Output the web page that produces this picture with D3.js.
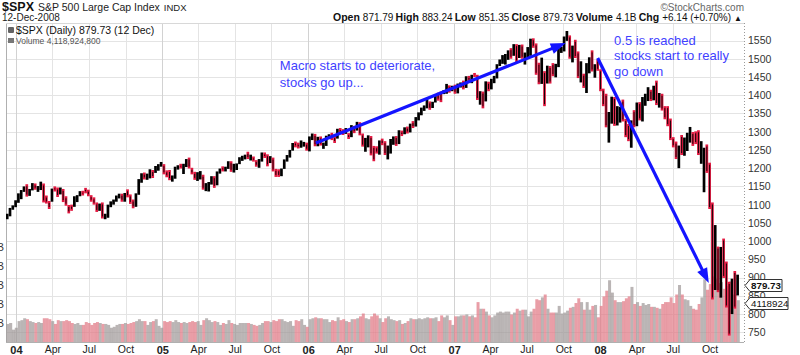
<!DOCTYPE html>
<html><head><meta charset="utf-8">
<script src="https://cdn.jsdelivr.net/npm/d3@7"></script>
<style>body{margin:0;background:#fff}svg{display:block;font-family:Arial,"Liberation Sans",sans-serif}</style>
</head><body><svg id="c" width="800" height="355"></svg>
<script>
// ---- data (weekly bars, week starting Monday) ----
const firstWeek = "2003-12-08";
const closes = [
1074,1089,1095,
1108,1122,1139,1141,1131, 1142,1146,1144,1145, 1156,1120,1109,1108, 1141,1139,1134,1141,1107, 1098,1095,1093,1121, 1122,1137,1135,1134, 1126,1112,1101,1096,1101, 1064,1064,1098,1107, 1113,1123,1128,1110, 1131,1122,1108,1095,1130, 1167,1185,1170,1183, 1191,1189,1195,1210,1212,
1186,1184,1168,1171, 1203,1206,1201,1212, 1222,1201,1190,1172, 1172,1182,1142,1153,1157, 1172,1154,1190,1198, 1197,1201,1217,1191, 1211,1212,1228,1230,1234, 1226,1231,1220,1205, 1218,1241,1237,1215,1229, 1196,1186,1179,1198, 1220,1235,1248,1268, 1265,1259,1267,1268,1248,
1285,1288,1261,1284, 1264,1267,1287,1289, 1287,1282,1307,1302,1295, 1295,1289,1311,1310, 1326,1291,1267,1280, 1288,1253,1251,1245,1270, 1265,1236,1240,1278, 1280,1267,1302,1295, 1311,1299,1320,1314,1336, 1350,1362,1369,1377, 1364,1380,1401,1400, 1397,1409,1427,1410,1418,
1409,1430,1430,1423, 1449,1438,1455,1451, 1387,1402,1386,1436,1421, 1443,1452,1484,1494, 1505,1505,1522,1515, 1536,1507,1533,1502,1503, 1530,1552,1534,1458, 1433,1453,1445,1479,1473, 1453,1484,1525,1527, 1557,1561,1500,1535, 1509,1453,1458,1440,1481, 1504,1467,1484,1478,
1411,1401,1325,1331, 1395,1331,1349,1353,1331, 1294,1288,1330,1316, 1370,1332,1390,1398, 1413,1388,1425,1376,1400, 1361,1360,1318,1278, 1262,1240,1261,1257, 1260,1296,1298,1292,1283, 1242,1252,1255,1213, 1099,899,940,877,968, 930,873,800,896, 876,880];
const highs = [
1075,1091,1098,
1112,1131,1140,1150,1156, 1143,1159,1158,1151, 1163,1158,1125,1110, 1144,1150,1147,1147,1143, 1123,1099,1100,1123, 1126,1137,1138,1146, 1141,1126,1120,1106,1103, 1106,1075,1100,1109, 1114,1125,1130,1130, 1132,1142,1128,1114,1131, 1170,1186,1188,1185, 1197,1195,1206,1211,1217,
1211,1194,1195,1180, 1204,1208,1212,1212, 1225,1229,1201,1190, 1189,1192,1182,1159,1162, 1178,1178,1191,1199, 1205,1204,1219,1219, 1212,1213,1230,1234,1237, 1245,1237,1232,1222, 1225,1243,1243,1238,1233, 1229,1198,1197,1199, 1224,1236,1250,1269, 1273,1270,1276,1272,1270,
1287,1295,1294,1286, 1287,1270,1289,1293, 1297,1288,1308,1310,1307, 1310,1296,1318,1316, 1327,1326,1295,1283, 1290,1288,1261,1260,1276, 1281,1274,1262,1280, 1287,1288,1304,1303, 1312,1314,1322,1329,1340, 1353,1366,1372,1389, 1383,1382,1403,1407, 1410,1414,1431,1427,1426,
1429,1432,1435,1440, 1452,1453,1456,1461, 1456,1411,1410,1438,1437, 1445,1453,1485,1498, 1510,1513,1523,1529, 1540,1540,1538,1539,1517, 1532,1555,1556,1542, 1489,1503,1466,1481,1480, 1488,1486,1530,1533, 1561,1576,1564,1536, 1552,1520,1493,1459,1488, 1504,1523,1485,1498,
1471,1418,1404,1354, 1396,1395,1370,1368,1388, 1335,1321,1331,1359, 1380,1381,1395,1404, 1422,1415,1426,1440,1406, 1404,1370,1370,1336, 1285,1273,1262,1291, 1284,1297,1313,1299,1301, 1304,1274,1256,1265, 1215,1106,1044,985,984, 1007,944,888,897, 918,908];
const lows = [
1060,1068,1086,
1093,1105,1115,1135,1122, 1124,1139,1141,1135, 1140,1106,1103,1088, 1108,1136,1121,1128,1107, 1097,1076,1083,1094, 1107,1123,1125,1131, 1123,1108,1100,1080,1083, 1062,1060,1064,1093, 1100,1108,1117,1108, 1108,1120,1102,1090,1094, 1127,1160,1169,1168, 1172,1173,1187,1193,1204,
1183,1175,1167,1163, 1171,1196,1199,1184, 1203,1199,1183,1168, 1165,1169,1141,1137,1136, 1155,1146,1153,1185, 1191,1191,1198,1190, 1188,1195,1211,1220,1224, 1225,1221,1218,1204, 1201,1218,1228,1205,1214, 1191,1176,1176,1178, 1198,1218,1229,1248, 1257,1254,1256,1259,1248,
1246,1277,1260,1260, 1262,1253,1261,1280, 1277,1269,1281,1295,1291, 1294,1280,1285,1296, 1303,1290,1259,1245, 1257,1235,1219,1240,1237, 1263,1236,1224,1240, 1264,1261,1266,1288, 1293,1295,1298,1310,1314, 1331,1345,1357,1364, 1360,1365,1380,1385, 1381,1403,1404,1407,1411,
1404,1405,1421,1416, 1420,1437,1433,1450, 1387,1374,1364,1383,1411, 1416,1433,1446,1480, 1486,1484,1497,1500, 1508,1490,1502,1500,1484, 1503,1508,1530,1456, 1430,1431,1370,1432,1432, 1452,1449,1477,1516, 1520,1549,1500,1490, 1502,1447,1435,1420,1406, 1460,1465,1448,1467,
1411,1370,1312,1270, 1322,1316,1317,1325,1328, 1285,1274,1256,1312, 1315,1331,1328,1371, 1384,1384,1386,1373,1366, 1358,1334,1315,1277, 1257,1225,1200,1236, 1234,1247,1270,1261,1266, 1236,1212,1134,1187, 1088,840,866,860,845, 899,818,741,800, 815,851];
const volumes = [ // billions
1.9,2.0,1.3,
1.5,2.2,2.3,2.5,2.4, 2.2,2.1,2.0,2.1, 2.0,2.5,2.5,2.4, 2.2,1.9,2.3,2.2,2.2, 2.3,2.2,2.0,1.9, 2.0,1.8,1.8,2.1, 2.0,1.8,2.0,2.1,2.0, 1.9,1.9,1.8,1.5, 1.6,1.8,1.9,1.9, 2.0,1.9,2.0,2.1,2.2, 2.4,2.2,2.2,1.8, 2.1,2.2,2.4,1.7,1.5,
2.2,2.1,2.2,2.1, 2.3,2.1,2.0,2.1, 2.0,2.1,2.2,2.1, 2.2,1.8,2.3,2.5,2.3, 2.1,2.2,2.1,1.8, 2.0,1.9,2.3,2.0, 1.9,1.8,2.0,2.0,2.0, 2.0,1.9,1.8,1.7, 1.8,2.0,2.2,2.2,2.1, 2.3,2.2,2.4,2.4, 2.2,2.1,2.2,1.7, 2.3,2.2,2.4,1.8,1.6,
2.4,2.5,2.6,2.5, 2.5,2.4,2.4,2.1, 2.3,2.2,2.6,2.3,2.4, 2.2,2.1,2.4,2.4, 2.5,2.7,3.0,2.5, 2.4,2.7,3.0,2.8,2.5, 2.1,2.5,2.7,2.4, 2.3,2.2,2.3,1.9, 2.0,2.2,2.5,2.4,2.4, 2.5,2.4,2.5,2.6, 2.5,2.5,2.6,2.2, 2.8,2.6,2.8,2.3,1.8,
2.7,2.7,2.8,2.8, 2.9,2.7,2.8,2.6, 4.2,3.5,3.5,3.2,2.8, 2.6,2.8,3.1,3.2, 3.1,3.2,3.2,2.9, 3.1,3.5,3.3,3.4,3.4, 2.7,3.2,3.5,4.5, 4.4,4.7,5.0,3.5,3.1, 3.1,3.1,3.8,3.0, 3.1,3.3,3.6,3.7, 4.1,4.6,4.2,3.4,4.2, 3.4,3.8,3.9,2.6,
3.8,4.8,5.4,6.5, 5.2,4.4,4.2,4.2,4.3, 4.6,4.8,5.8,4.0, 4.2,3.8,4.1,3.9, 4.0,3.7,3.7,3.6,3.5, 4.0,4.2,4.2,4.7, 4.1,5.0,6.0,5.0, 4.5,4.4,3.8,3.5,3.4, 4.0,4.7,6.6,5.5, 6.1,6.9,6.6,6.2,6.3, 5.6,5.9,6.4,5.0, 5.0,4.4];
const priceTicks = [750,800,850,900,950,1000,1050,1100,1150,1200,1250,1300,1350,1400,1450,1500,1550];
const volumeTicks = [2,4,6,8,10];
const lastClose = 879.73, lastVolume = 4.118924;
const statsLine = [["Open","871.79"],["High","883.24"],["Low","851.35"],["Close","879.73"],["Volume","4.1B"],["Chg","+6.14 (+0.70%)"]];
const arrows = [
  {from:["2006-01-20",1269], to:["2007-10-07",1543]},
  {from:["2007-12-26",1502], to:["2008-09-29",885]}
];
const notes = [
  {date:"2005-10-22", price:1469, lines:["Macro starts to deteriorate,","stocks go up..."]},
  {date:"2008-02-05", price:1538, lines:["0.5 is reached","stocks start to really","go down"]}
];

// ---- layout ----
const svg = d3.select("#c");
const L=6, R=744, T=23, B=342;
const parse = d3.timeParse("%Y-%m-%d");
const x = d3.scaleTime().domain([new Date(2003,11,7), new Date(2008,11,26)]).range([L,R]);
const y = d3.scaleLinear().domain([750,1550]).range([332.3,40.5]);
const yv = d3.scaleLinear().domain([0,10]).range([B,B-95]);
const w0 = parse(firstWeek);
const weeks = closes.map((c,i)=>({i, start:d3.timeDay.offset(w0,7*i), c, h:highs[i], l:lows[i], v:volumes[i],
  up: i===0 ? true : c>=closes[i-1]}));
const mid = d=>x(d3.timeDay.offset(d.start,2));

svg.append("rect").attr("width",800).attr("height",355).attr("fill","#fff");
svg.append("defs").append("clipPath").attr("id","pc").append("rect")
  .attr("x",L).attr("y",T).attr("width",R-L).attr("height",B-T);

// grid
const qTicks = d3.timeMonth.range(new Date(2004,0,1), new Date(2008,11,2), 3);
const g = svg.append("g");
g.selectAll(".hg").data(priceTicks).join("line")
  .attr("x1",L).attr("x2",R).attr("y1",d=>Math.round(y(d))+0.5).attr("y2",d=>Math.round(y(d))+0.5)
  .attr("stroke","#e4e4e4");
g.selectAll(".vg").data(qTicks).join("line")
  .attr("x1",d=>Math.round(x(d))+0.5).attr("x2",d=>Math.round(x(d))+0.5).attr("y1",T).attr("y2",B)
  .attr("stroke",d=>d.getMonth()===0?"#d2d2d2":"#e4e4e4");

// frame
svg.append("line").attr("x1",L+0.5).attr("x2",L+0.5).attr("y1",T).attr("y2",B).attr("stroke","#b0b0b0");
svg.append("line").attr("x1",L).attr("x2",R).attr("y1",B+0.5).attr("y2",B+0.5).attr("stroke","#b0b0b0");
svg.append("line").attr("x1",L).attr("x2",R).attr("y1",T+0.5).attr("y2",T+0.5).attr("stroke","#d8d8d8");
svg.append("line").attr("x1",R+0.5).attr("x2",R+0.5).attr("y1",T).attr("y2",B).attr("stroke","#999").attr("stroke-dasharray","1,2");

// volume
const pg = svg.append("g").attr("clip-path","url(#pc)");
pg.selectAll(".vol").data(weeks).join("rect")
  .attr("x",d=>x(d.start)).attr("width",d=>x(d3.timeDay.offset(d.start,7))-x(d.start)+0.2)
  .attr("y",d=>yv(d.v)).attr("height",d=>B-yv(d.v))
  .attr("fill",d=>d.up?"#9c9595":"#e07885").attr("fill-opacity",d=>d.up?0.7:0.72);

// price bars: up weeks black, down weeks red with a dark core
pg.selectAll(".bar").data(weeks).join("line")
  .attr("x1",mid).attr("x2",mid)
  .attr("y1",d=>y(d.h)).attr("y2",d=>y(d.l))
  .attr("stroke",d=>d.up?"#000":"#e2173f").attr("stroke-width",2.7);
pg.selectAll(".core").data(weeks.filter(d=>!d.up)).join("line")
  .attr("x1",mid).attr("x2",mid)
  .attr("y1",d=>y(d.h)+2).attr("y2",d=>y(d.l)-2)
  .attr("stroke","#000").attr("stroke-width",0.9);

// arrows
arrows.forEach(a=>{
  const x1=x(parse(a.from[0])), y1=y(a.from[1]), x2=x(parse(a.to[0])), y2=y(a.to[1]);
  const dx=x2-x1, dy=y2-y1, len=Math.hypot(dx,dy), ux=dx/len, uy=dy/len;
  const hl=15, hw=5.5;
  const bx=x2-ux*hl, by=y2-uy*hl;
  svg.append("line").attr("x1",x1).attr("y1",y1).attr("x2",bx+ux*2).attr("y2",by+uy*2)
    .attr("stroke","#1414ff").attr("stroke-width",3.2);
  svg.append("path").attr("d",`M${x2},${y2}L${bx-uy*hw},${by+ux*hw}L${bx+uy*hw},${by-ux*hw}Z`).attr("fill","#1414ff");
});
notes.forEach((n,j)=>{
  const t=svg.append("text").attr("x",x(parse(n.date))).attr("y",y(n.price)).attr("fill","#3f3fff").attr("font-size",13);
  n.lines.forEach((s,k)=>t.append("tspan").attr("x",x(parse(n.date))).attr("dy",k?(j?15.5:17):0).text(s));
});

// right axis
const ra = svg.append("g").attr("transform",`translate(${R},0)`)
  .call(d3.axisRight(y).tickValues(priceTicks).tickSize(0).tickPadding(4).tickFormat(d3.format("d")));
ra.select(".domain").remove();
ra.selectAll("text").style("font-family","Arial, Liberation Sans, sans-serif").style("font-size","10.5px").attr("fill","#333");

// left volume axis (cut off by the window edge)
const la = svg.append("g").attr("transform",`translate(${L-2},0)`)
  .call(d3.axisLeft(yv).tickValues(volumeTicks).tickSize(0).tickPadding(0).tickFormat(d=>d+"B"));
la.select(".domain").remove();
la.selectAll("text").style("font-family","Arial, Liberation Sans, sans-serif").style("font-size","10.5px").attr("fill","#333");

// bottom axis
const ba = svg.append("g").attr("transform",`translate(0,${B})`)
  .call(d3.axisBottom(x).tickValues(qTicks).tickSize(0).tickPadding(4)
    .tickFormat(d=>d.getMonth()===0?d3.timeFormat("%y")(d):d3.timeFormat("%b")(d)));
ba.select(".domain").remove();
ba.selectAll("text").style("font-family","Arial, Liberation Sans, sans-serif")
  .style("font-size",d=>d.getMonth()===0?"11px":"10.5px").style("font-weight",d=>d.getMonth()===0?"bold":"normal").attr("fill","#222");

// value tags
function tag(val, txt, bold, wdt){
  const yy=Math.round(val)+0.5, h=12;
  svg.append("path").attr("d",`M${R+1},${yy}L${R+6},${yy-h/2}L${R+6+wdt},${yy-h/2}L${R+6+wdt},${yy+h/2}L${R+6},${yy+h/2}Z`)
    .attr("fill","#fff").attr("stroke","#333").attr("stroke-width",1);
  svg.append("text").attr("x",R+7).attr("y",yy+3.8).attr("font-size",9.8).attr("font-weight",bold?"bold":"normal").attr("fill","#111").text(txt);
}
tag(y(lastClose), d3.format(".2f")(lastClose), true, 32);
tag(yv(lastVolume), String(Math.round(lastVolume*1e6)), false, 38);

// header
const h1 = svg.append("text").attr("x",2).attr("y",10.5);
h1.append("tspan").attr("font-weight","bold").attr("font-size",12.5).attr("fill","#111").text("$SPX");
h1.append("tspan").attr("font-size",10.5).attr("fill","#222").attr("dx",4).text("S&P 500 Large Cap Index");
h1.append("tspan").attr("font-size",9.5).attr("fill","#222").attr("dx",4).text("INDX");
svg.append("text").attr("x",2).attr("y",21).attr("font-size",10).attr("fill","#222").text("12-Dec-2008");
svg.append("text").attr("x",744).attr("y",10.5).attr("text-anchor","end").attr("font-size",10).attr("fill","#666").text("©StockCharts.com");
const st = svg.append("text").attr("x",742).attr("y",21).attr("text-anchor","end").attr("fill","#111");
const gaps = [];
statsLine.forEach((p,k)=>{
  const lab = st.append("tspan").attr("font-weight","bold").attr("font-size",10.5).attr("dx",k?5:0).text(p[0]);
  if(k) gaps.push(lab);
  st.append("tspan").attr("font-size",10).attr("dx",3).text(p[1]);
});
st.append("tspan").attr("font-size",8).attr("dx",3).text("▲");
// fit the gaps so the line spans the same width as the source header (x 333 to 742)
const wNow = st.node().getBBox().width, target = 409;
gaps.forEach(t=>t.attr("dx",Math.max(2,5+(target-wNow)/gaps.length)));

// legend
svg.append("path").attr("d","M8,27h6v6h-6z M9,29h4 M9,31h4").attr("fill","#222").attr("stroke","#fff").attr("stroke-width",0.6);
svg.append("text").attr("x",16).attr("y",34).attr("font-size",10.5).attr("fill","#111").text(`$SPX (Daily) ${d3.format(".2f")(lastClose)} (12 Dec)`);
svg.append("path").attr("d","M8,38h6v5h-6z").attr("fill","#777");
svg.append("text").attr("x",16).attr("y",44).attr("font-size",8.5).attr("fill","#555").text("Volume 4,118,924,800");
</script></body></html>
